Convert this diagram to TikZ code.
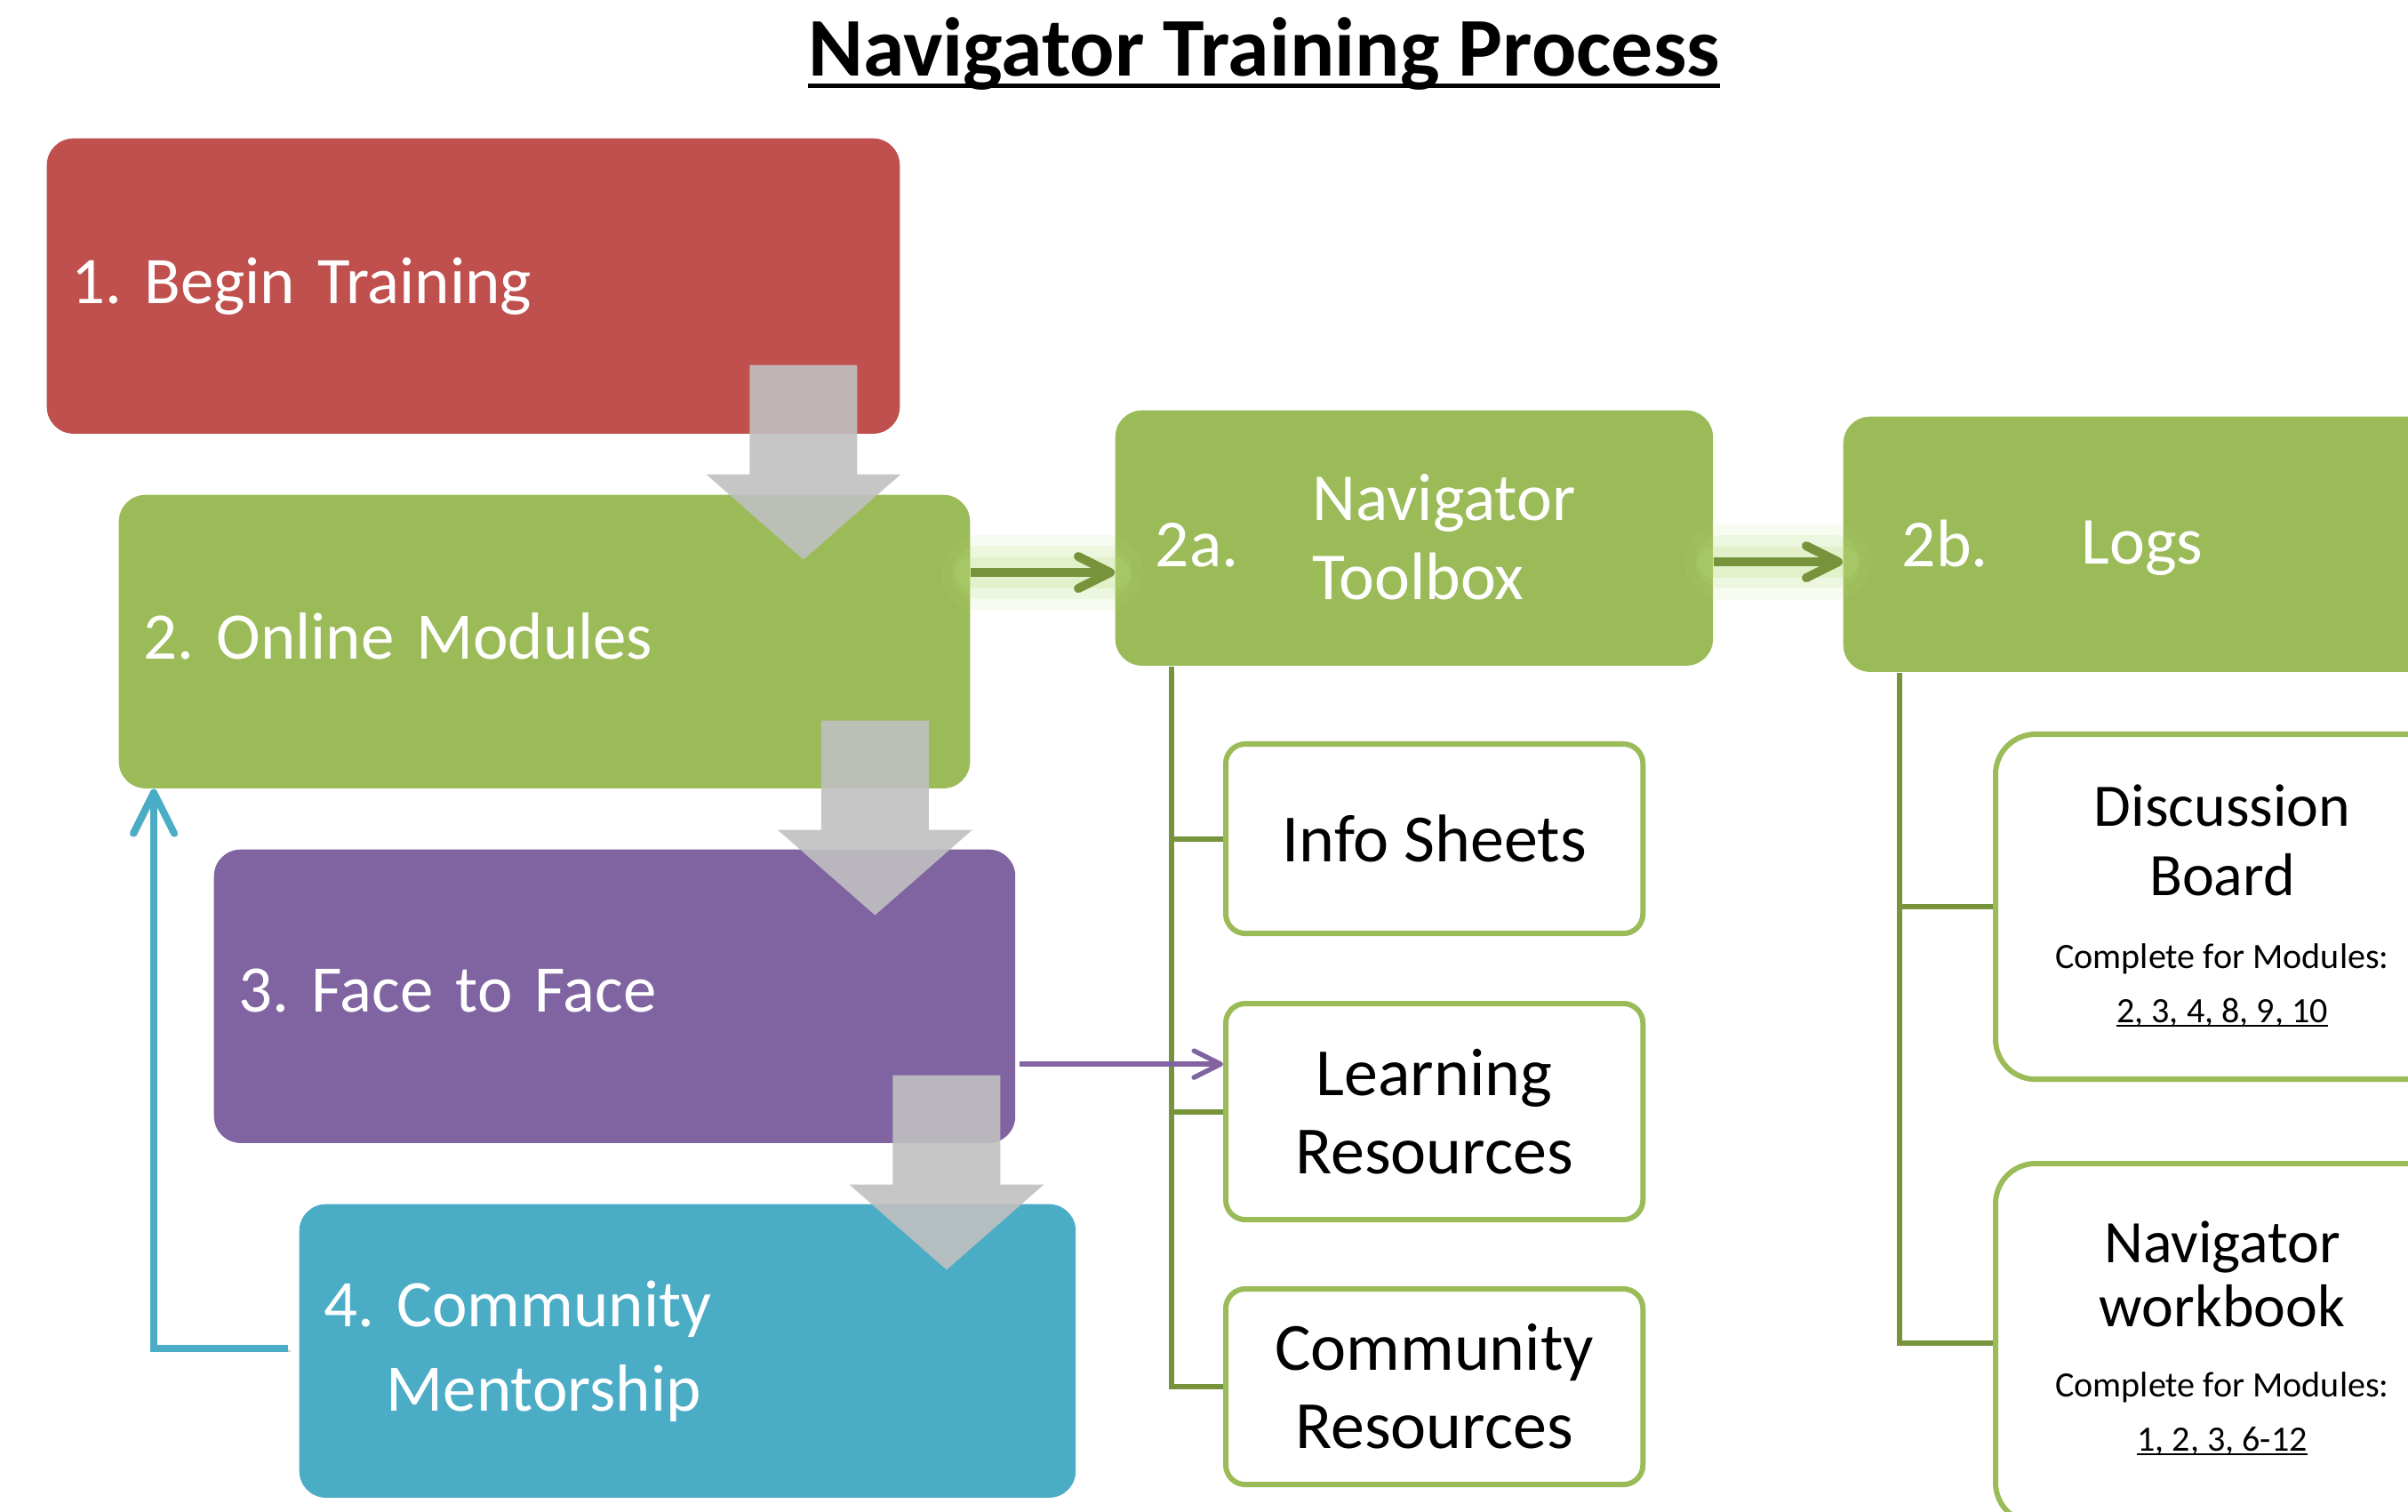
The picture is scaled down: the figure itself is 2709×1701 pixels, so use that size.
\documentclass[tikz,border=0pt]{standalone}
\usepackage{fontspec}
\setmainfont{Carlito}
\usetikzlibrary{arrows.meta,calc}
\definecolor{cred}{HTML}{C0504D}
\definecolor{cgreen}{HTML}{9BBB59}
\definecolor{cpurple}{HTML}{8064A2}
\definecolor{cblue}{HTML}{4BACC6}
\definecolor{cdgreen}{HTML}{77933C}
\definecolor{cglow}{HTML}{B9DF7A}
\definecolor{cgray}{HTML}{C0C0C0}
\newcommand\myul[1]{\setbox0\hbox{#1}\rlap{\rule[-0.135em]{\wd0}{0.054em}}\box0}
\tikzset{
  blockarr/.pic={\fill[cgray, fill opacity=0.9] (-60.5,0) -- (60.5,0) -- (60.5,123) -- (109.5,123) -- (0,219) -- (-109.5,123) -- (-60.5,123) -- cycle;},
  mainbox/.style={rounded corners=0.3cm, inner xsep=0.28cm, inner ysep=0, text=white, align=left, anchor=north west, font=\fontsize{21.3}{27}\selectfont},
  greenbox/.style={fill=cgreen, rounded corners=0.3cm, anchor=north west, inner sep=0},
  childbox/.style={draw=cgreen, line width=0.06cm, fill=white, rounded corners=0.22cm, anchor=north west, inner sep=0, align=center, font=\fontsize{21.6}{25}\selectfont},
  rbox/.style={draw=cgreen, line width=0.06cm, fill=white, rounded corners=0.45cm, anchor=north west, inner sep=0},
  wlbl/.style={inner sep=0, text=white, font=\fontsize{21.5}{25.3}\selectfont},
  rtxt/.style={inner sep=0, font=\fontsize{19.3}{22}\selectfont, text height=0.44cm, text depth=0pt},
  stxt/.style={inner sep=0, font=\fontsize{11.4}{13}\selectfont, text height=0.26cm, text depth=0pt},
  tree/.style={draw=cdgreen, line width=0.06cm},
  garrow/.style={draw=cdgreen, line width=0.1cm, -{Straight Barb[length=0.36cm,width=0.36cm,round]},
    preaction={draw=cglow, line width=0.85cm, draw opacity=0.1, line cap=round, arrows=-, shorten <=0.1cm, shorten >=0.1cm},
    preaction={draw=cglow, line width=0.6cm, draw opacity=0.15, line cap=round, arrows=-, shorten <=0.1cm, shorten >=0.1cm},
    preaction={draw=cglow, line width=0.35cm, draw opacity=0.2, line cap=round, arrows=-}},
  blarrow/.style={draw=cblue, line width=0.08cm, -{Straight Barb[length=0.46cm,width=0.46cm,round]}, shorten <=0.12cm},
  parrow/.style={draw=cpurple, line width=0.055cm, -{Straight Barb[length=0.3cm,width=0.3cm,round]}, shorten <=0.04cm}
}
\begin{document}
\frenchspacing
\begin{tikzpicture}[x=0.01cm,y=-0.01cm]
\useasboundingbox (0,0) rectangle (2709,1701);
\fill[white] (0,0) rectangle (2709,1701);

\node[font=\fontsize{26.7}{30}\selectfont\bfseries, anchor=base, inner sep=0] (title) at (1422,86) {\myul{Navigator Training Process}};

% main process boxes
\node[mainbox, fill=cred, text width=9.03cm, minimum height=3.32cm] (b1) at (52,155) {1. Begin Training};
\node[mainbox, fill=cgreen, text width=9.01cm, minimum height=3.30cm] (b2) at (133,556) {2. Online Modules\vphantom{g}};
\node[mainbox, fill=cpurple, text width=8.45cm, minimum height=3.30cm] (b3) at (240,955) {3. Face to Face\vphantom{g}};
\node[mainbox, fill=cblue, text width=8.17cm, minimum height=3.30cm] (b4) at (336,1354) {4. Community\\\hspace*{0.7cm}Mentorship};

% 2a / 2b boxes
\node[greenbox, minimum width=6.72cm, minimum height=2.87cm] (b2a) at (1254,461) {};
\node[greenbox, minimum width=7.0cm, minimum height=2.87cm] (b2b) at (2073,468) {};
\node[wlbl, anchor=west, text height=0.49cm, text depth=0pt] (l2a) at (1299,613) {2a.};
\node[wlbl, anchor=west, align=left] (l2at) at (1476,604) {Navigator\\Toolbox};
\node[wlbl, anchor=west, text height=0.49cm, text depth=0pt] (l2b) at (2139,613) {2b.};
\node[wlbl, anchor=west, text height=0.49cm, text depth=0pt] (l2bt) at (2341,610) {Logs};

% tree connectors
\coordinate (t1) at ([xshift=0.64cm]b2a.south west);
\coordinate (t2) at ([xshift=0.64cm]b2b.south west);

% child boxes
\node[childbox, minimum width=4.69cm, minimum height=2.13cm] (c1) at (1376,834) {Info Sheets};
\node[childbox, minimum width=4.69cm, minimum height=2.43cm] (c2) at (1376,1126) {Learning\\Resources};
\node[childbox, minimum width=4.69cm, minimum height=2.20cm] (c3) at (1376,1447) {Community\\Resources};
\node[rbox, minimum width=5.16cm, minimum height=3.88cm] (d1) at (2242,823) {};
\node[rbox, minimum width=5.16cm, minimum height=4.04cm] (d2) at (2242,1306) {};

\draw[tree] (t1) |- (c3.west);
\draw[tree] (t1 |- c1.west) -- (c1.west);
\draw[tree] (t1 |- c2.west) -- (c2.west);
\draw[tree] (t2) |- (d2.west);
\draw[tree] (t2 |- d1.west) -- (d1.west);

\node[rtxt] (d1a) at (2500,907) {Discussion};
\node[rtxt] (d1b) at (2500,985) {Board};
\node[stxt] (d1c) at (2500,1076) {Complete for Modules:};
\node[stxt] (d1d) at (2500,1137) {\myul{2, 3, 4, 8, 9, 10}};
\node[rtxt] (d2a) at (2500,1398) {Navigator};
\node[rtxt] (d2b) at (2500,1470) {workbook};
\node[stxt] (d2c) at (2500,1558) {Complete for Modules:};
\node[stxt] (d2d) at (2500,1619) {\myul{1, 2, 3, 6-12}};

% gray block arrows
\pic at ([xshift=-1.09cm,yshift=0.78cm]b1.south east) {blockarr};
\pic at ([xshift=-1.075cm,yshift=0.77cm]b2.south east) {blockarr};
\pic at ([xshift=-0.78cm,yshift=0.77cm]b3.south east) {blockarr};

% connectors
\coordinate (g1s) at ([yshift=-0.88cm]b2.north east);
\draw[garrow] (g1s) -- (g1s -| b2a.west);
\coordinate (g2s) at ([yshift=-1.71cm]b2a.north east);
\draw[garrow] (g2s) -- (g2s -| b2b.west);
\coordinate (p1s) at ([yshift=-2.42cm]b3.north east);
\draw[parrow] (p1s) -- (p1s -| c2.west);
\coordinate (bl1) at ([yshift=-1.63cm]b4.north west);
\coordinate (bl2) at ([xshift=0.4cm]b2.south west);
\draw[blarrow, preaction={draw=black, draw opacity=0.2, transform canvas={shift={(0.03cm,-0.03cm)}}}] (bl1) -| (bl2);
\end{tikzpicture}
\end{document}
